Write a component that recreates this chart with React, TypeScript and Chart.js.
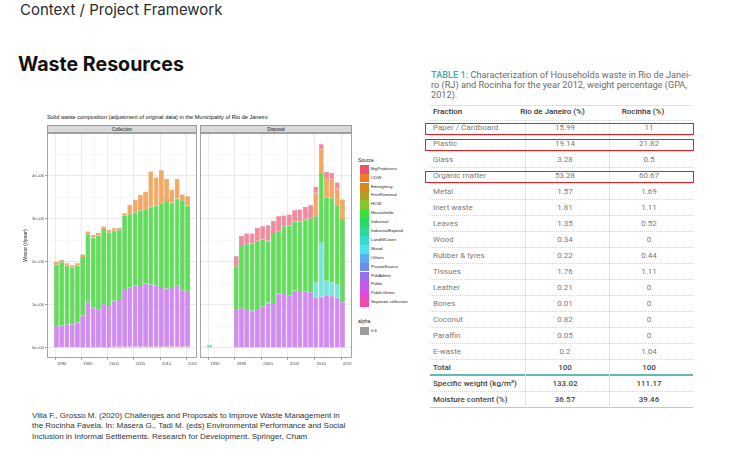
import React, { useEffect, useRef } from "react";
import { Chart, registerables } from "chart.js";
Chart.register(...registerables);

// ---------- legend / sources ----------
const SOURCES = ["BigProducers", "CDW", "Emergency", "FreeRemoval", "HCW", "Households", "Industrial", "IndustrialExpired", "LandfillCover", "Mixed", "Others", "PrivateSource", "PubAdmin", "Public", "PublicGreen", "Separate collection"];
const LEGEND_COLORS = ["#EE4F73", "#F07C28", "#D8871C", "#ADA022", "#86C82A", "#3BE03A", "#2AD862", "#2AD89A", "#36DCCB", "#4CE2F0", "#5AAEF0", "#6E8CF0", "#9470EE", "#C05BEE", "#E04ADC", "#F04AAE"];
const BAR_FILL: Record<string, string> = {
  BigProducers: "#F48A9E",
  CDW: "#F4A862",
  Households: "#5EE056",
  LandfillCover: "#74E6DE",
  Public: "#D48AF3",
  "Separate collection": "#F07EBB",
};
const BAR_LINE: Record<string, string> = {
  BigProducers: "#C8405C",
  CDW: "#C87424",
  Households: "#2E9E2A",
  LandfillCover: "#2AA8A0",
  Public: "#9448B8",
  "Separate collection": "#B03A7A",
};

// ---------- Collection panel data (t/year) ----------
const collectionYears = [1989, 1990, 1991, 1992, 1993, 1994, 1995, 1996, 1997, 1998, 1999, 2000, 2001, 2002, 2003, 2004, 2005, 2006, 2007, 2008, 2009, 2010, 2011, 2012, 2013, 2014];
const collectionSeparate = [15000, 15000, 15000, 15000, 15000, 18000, 18000, 18000, 20000, 20000, 20000, 22000, 22000, 25000, 25000, 25000, 28000, 28000, 30000, 30000, 30000, 30000, 32000, 32000, 32000, 32000];
const collectionPublic = [485000, 495000, 525000, 525000, 575000, 725000, 1035000, 915000, 875000, 995000, 955000, 1075000, 1115000, 1345000, 1385000, 1425000, 1435000, 1465000, 1445000, 1425000, 1385000, 1345000, 1385000, 1425000, 1305000, 1285000];
const collectionHouseholds = [1440000, 1480000, 1370000, 1330000, 1320000, 1370000, 1590000, 1630000, 1720000, 1750000, 1710000, 1630000, 1600000, 1710000, 1700000, 1700000, 1730000, 1730000, 1810000, 1860000, 1950000, 2040000, 1960000, 2010000, 2100000, 1990000];
const collectionCDW = [55000, 60000, 55000, 50000, 55000, 60000, 65000, 60000, 55000, 60000, 60000, 55000, 60000, 50000, 220000, 290000, 370000, 410000, 820000, 650000, 770000, 520000, 300000, 470000, 130000, 220000];

// ---------- Disposal panel data (t/year) ----------
const disposalYears = [1989, 1994, 1995, 1996, 1997, 1998, 1999, 2000, 2001, 2002, 2003, 2004, 2005, 2006, 2007, 2008, 2009, 2010, 2011, 2012, 2013, 2014];
const disposalPublic = [null, 900000, 920000, 900000, 860000, 900000, 960000, 1020000, 1040000, 1260000, 1250000, 1220000, 1330000, 1320000, 1310000, 1290000, 1170000, 1190000, 1220000, 1200000, 1170000, 1060000];
const disposalLandfillCover = [70000, null, null, null, null, null, null, 40000, null, null, null, null, null, null, null, null, 350000, 1270000, 340000, 320000, 310000, null];
const disposalHouseholds = [null, 1000000, 1450000, 1510000, 1570000, 1590000, 1560000, 1430000, 1630000, 1450000, 1580000, 1620000, 1610000, 1620000, 1670000, 1720000, 1540000, 1610000, 1940000, 1960000, 1820000, 1940000];
const disposalCDW = [null, null, null, null, null, null, null, null, null, null, null, null, null, null, null, null, 550000, 550000, 450000, 440000, 400000, 450000];
const disposalBigProducers = [null, 230000, 230000, 250000, 230000, 300000, 310000, 360000, 290000, 350000, 250000, 260000, 260000, 280000, 300000, 310000, 130000, 120000, 150000, 150000, 150000, null];

// ---------- axes ----------
const xTicks = [1987.5, 1990, 1992.5, 1995, 1997.5, 2000, 2002.5, 2005, 2007.5, 2010, 2012.5, 2015];
const yTicks = [0, 500000, 1000000, 1500000, 2000000, 2500000, 3000000, 3500000, 4000000, 4500000];
const X_MIN = 1987.2;
const X_MAX = 2015.8;
const Y_MIN = -238000;
const Y_MAX = 5000000;

// ---------- table ----------
const fractions = ["Paper / Cardboard", "Plastic", "Glass", "Organic matter", "Metal", "Inert waste", "Leaves", "Wood", "Rubber & tyres", "Tissues", "Leather", "Bones", "Coconut", "Paraffin", "E-waste", "Total", "Specific weight (kg/m³)", "Moisture content (%)"];
const rioValues = ["15.99", "19.14", "3.28", "53.28", "1.57", "1.81", "1.35", "0.34", "0.22", "1.76", "0.21", "0.01", "0.82", "0.05", "0.2", "100", "133.02", "36.57"];
const rocinhaValues = ["11", "21.82", "0.5", "60.67", "1.69", "1.11", "0.52", "0", "0.44", "1.11", "0", "0", "0", "0", "1.04", "100", "111.17", "39.46"];
const highlighted = [0, 1, 3];

const CHART_FONT = '"Liberation Sans", Arial, Helvetica, sans-serif';

function makeDataset(label: string, years: number[], values: (number | null)[]) {
  return {
    label,
    data: years.map((x, i) => ({ x, y: values[i] })),
    backgroundColor: BAR_FILL[label],
    borderColor: BAR_LINE[label],
    borderWidth: 0.5,
    barPercentage: 0.9,
    categoryPercentage: 1,
  };
}

const panelBorder = {
  id: "panelBorder",
  afterDraw(chart: any) {
    const { ctx, chartArea: a } = chart;
    ctx.save();
    ctx.strokeStyle = "#8f8f8f";
    ctx.lineWidth = 0.8;
    ctx.strokeRect(a.left + 0.4, a.top + 0.4, a.right - a.left - 0.8, a.bottom - a.top - 0.8);
    ctx.restore();
  },
};

function fmtSci(v: number) {
  if (v === 0) return "0e+00";
  return `${v / 1000000}e+06`;
}

function makeOptions(showY: boolean): any {
  return {
    animation: false,
    responsive: false,
    maintainAspectRatio: false,
    devicePixelRatio: 1,
    layout: { padding: 0 },
    plugins: { legend: { display: false }, tooltip: { enabled: false }, title: { display: false } },
    scales: {
      x: {
        type: "linear",
        min: X_MIN,
        max: X_MAX,
        stacked: true,
        offset: false,
        afterBuildTicks: (s: any) => {
          s.ticks = xTicks.map((v) => ({ value: v }));
        },
        afterFit: (s: any) => {
          s.height = 12;
          s.paddingLeft = 0;
          s.paddingRight = 0;
        },
        ticks: {
          autoSkip: false,
          maxRotation: 0,
          minRotation: 0,
          padding: 1,
          color: "#4d4d4d",
          font: { size: 4.3, family: CHART_FONT },
          callback: (v: number) => (v % 5 === 0 ? String(v) : ""),
        },
        grid: {
          color: (c: any) => (c.tick && c.tick.value % 5 === 0 ? "#E2E2E2" : "#F0F0F0"),
          lineWidth: (c: any) => (c.tick && c.tick.value % 5 === 0 ? 0.7 : 0.5),
          tickLength: 2,
          tickColor: (c: any) => (c.tick && c.tick.value % 5 === 0 ? "#444" : "rgba(0,0,0,0)"),
          tickWidth: 0.5,
        },
        border: { display: false },
      },
      y: {
        type: "linear",
        min: Y_MIN,
        max: Y_MAX,
        stacked: true,
        afterBuildTicks: (s: any) => {
          s.ticks = yTicks.map((v) => ({ value: v }));
        },
        afterFit: (s: any) => {
          s.width = showY ? 25 : 0;
          s.paddingTop = 0;
          s.paddingBottom = 0;
        },
        ticks: {
          display: showY,
          padding: 1,
          color: "#4d4d4d",
          font: { size: 4.3, family: CHART_FONT },
          callback: (v: number) => (v % 1000000 === 0 ? fmtSci(v) : ""),
        },
        title: {
          display: showY,
          text: "Waste (t/year)",
          color: "#222",
          font: { size: 5.2, family: CHART_FONT },
          padding: { top: 0, bottom: 0 },
        },
        grid: {
          color: (c: any) => (c.tick && c.tick.value % 1000000 === 0 ? "#E2E2E2" : "#F0F0F0"),
          lineWidth: (c: any) => (c.tick && c.tick.value % 1000000 === 0 ? 0.7 : 0.5),
          drawTicks: showY,
          tickLength: 2,
          tickColor: (c: any) => (c.tick && c.tick.value % 1000000 === 0 ? "#444" : "rgba(0,0,0,0)"),
          tickWidth: 0.5,
        },
        border: { display: false },
      },
    },
  };
}

function Panel(props: { kind: "collection" | "disposal"; left: number; top: number; width: number; height: number }) {
  const ref = useRef<HTMLCanvasElement>(null);
  useEffect(() => {
    const datasets =
      props.kind === "collection"
        ? [
            makeDataset("Separate collection", collectionYears, collectionSeparate),
            makeDataset("Public", collectionYears, collectionPublic),
            makeDataset("Households", collectionYears, collectionHouseholds),
            makeDataset("CDW", collectionYears, collectionCDW),
          ]
        : [
            makeDataset("Public", disposalYears, disposalPublic),
            makeDataset("LandfillCover", disposalYears, disposalLandfillCover),
            makeDataset("Households", disposalYears, disposalHouseholds),
            makeDataset("CDW", disposalYears, disposalCDW),
            makeDataset("BigProducers", disposalYears, disposalBigProducers),
          ];
    const chart = new Chart(ref.current as HTMLCanvasElement, {
      type: "bar",
      data: { datasets } as any,
      options: makeOptions(props.kind === "collection"),
      plugins: [panelBorder],
    } as any);
    return () => chart.destroy();
  }, []);
  return (
    <canvas
      ref={ref}
      width={props.width}
      height={props.height}
      style={{ position: "absolute", left: props.left, top: props.top, width: props.width, height: props.height }}
    />
  );
}

const abs = (o: React.CSSProperties): React.CSSProperties => ({ position: "absolute", ...o });

export default function App() {
  const rowTop = 120;
  const rowH = 16;
  return (
    <div style={{ position: "fixed", left: 0, top: 0, width: 730, height: 461, background: "#fff", overflow: "hidden" }}>
      <div style={abs({ left: 20, top: 2, fontFamily: "Inter, sans-serif", fontSize: 15, lineHeight: "15px", color: "#2b2b2b", whiteSpace: "nowrap" })}>
        Context / Project Framework
      </div>
      <div style={abs({ left: 18, top: 54, fontFamily: "Inter, sans-serif", fontWeight: 700, fontSize: 19.6, lineHeight: "21px", color: "#111", whiteSpace: "nowrap" })}>
        Waste Resources
      </div>

      {/* chart title and strips */}
      <div style={abs({ left: 47, top: 114, fontFamily: CHART_FONT, fontSize: 5.6, lineHeight: "7px", color: "#111", whiteSpace: "nowrap" })}>
        Solid waste composition (adjustment of original data) in the Municipality of Rio de Janeiro
      </div>
      <div style={abs({ left: 47, top: 125, width: 150, height: 8, boxSizing: "border-box", background: "#D9D9D9", border: "0.6px solid #9a9a9a", fontFamily: CHART_FONT, fontSize: 4.6, lineHeight: "7px", textAlign: "center", color: "#1a1a1a" })}>
        Collection
      </div>
      <div style={abs({ left: 200, top: 125, width: 152, height: 8, boxSizing: "border-box", background: "#D9D9D9", border: "0.6px solid #9a9a9a", fontFamily: CHART_FONT, fontSize: 4.6, lineHeight: "7px", textAlign: "center", color: "#1a1a1a" })}>
        Disposal
      </div>
      <Panel kind="collection" left={22} top={133} width={175} height={237} />
      <Panel kind="disposal" left={200} top={133} width={152} height={237} />

      {/* legend */}
      <div style={abs({ left: 358, top: 157, fontFamily: CHART_FONT, fontSize: 5, lineHeight: "6px", color: "#222" })}>Source</div>
      {SOURCES.map((s, i) => (
        <React.Fragment key={s}>
          <div style={abs({ left: 360, top: 164.7 + i * 8.9, width: 8.5, height: 8.9, background: LEGEND_COLORS[i] })} />
          <div style={abs({ left: 371, top: 164.7 + i * 8.9, fontFamily: CHART_FONT, fontSize: 4.3, lineHeight: "8.9px", color: "#222", whiteSpace: "nowrap" })}>{s}</div>
        </React.Fragment>
      ))}
      <div style={abs({ left: 358, top: 318, fontFamily: CHART_FONT, fontSize: 5, lineHeight: "6px", color: "#222" })}>alpha</div>
      <div style={abs({ left: 360, top: 326.5, width: 8.5, height: 8.9, background: "#9C9C9C" })} />
      <div style={abs({ left: 371, top: 326.5, fontFamily: CHART_FONT, fontSize: 4.3, lineHeight: "8.9px", color: "#222" })}>0.6</div>

      {/* citation */}
      <div style={abs({ left: 32, top: 410.6, fontFamily: CHART_FONT, fontSize: 8, lineHeight: "10.8px", color: "#333", whiteSpace: "nowrap" })}>
        Villa F., Grosso M. (2020) Challenges and Proposals to Improve Waste Management in
        <br />
        the Rocinha Favela. In: Masera G., Tadi M. (eds) Environmental Performance and Social
        <br />
        Inclusion in Informal Settlements. Research for Development. Springer, Cham
      </div>

      {/* table caption */}
      <div style={abs({ left: 431, top: 69.5, width: 266, fontFamily: "Roboto, sans-serif", fontSize: 9.2, lineHeight: "10.4px", color: "#6b6b6b", whiteSpace: "nowrap" })}>
        <span style={{ color: "#3FAAB3", fontWeight: 500 }}>TABLE 1:</span> Characterization of Households waste in Rio de Janei-
        <br />
        ro (RJ) and Rocinha for the year 2012, weight percentage (GPA,
        <br />
        2012).
      </div>

      {/* table header */}
      <div style={abs({ left: 430, top: 104.5, width: 263, height: 0, borderTop: "1px solid #e2e2e2" })} />
      <div style={abs({ left: 433, top: rowTop - rowH, fontFamily: "Roboto, sans-serif", fontWeight: 500, fontSize: 8, lineHeight: `${rowH}px`, color: "#333" })}>Fraction</div>
      <div style={abs({ left: 500, width: 105, top: rowTop - rowH, fontFamily: "Roboto, sans-serif", fontWeight: 500, fontSize: 8, lineHeight: `${rowH}px`, color: "#333", textAlign: "center" })}>Rio de Janeiro (%)</div>
      <div style={abs({ left: 593, width: 100, top: rowTop - rowH, fontFamily: "Roboto, sans-serif", fontWeight: 500, fontSize: 8, lineHeight: `${rowH}px`, color: "#333", textAlign: "center" })}>Rocinha (%)</div>

      {/* table rows */}
      {fractions.map((f, i) => {
        const top = rowTop + i * rowH;
        const strong = i >= 15;
        const color = strong ? "#444" : "#7a7a7a";
        const weight = strong ? 500 : 400;
        let border = "1px dotted #cfd6d6";
        if (i === 15) border = "2px solid #62B9B9";
        if (i === 17) border = "1px solid #a9d3d3";
        return (
          <React.Fragment key={f}>
            <div style={abs({ left: 430, top: top, width: 263, height: rowH, boxSizing: "border-box", borderTop: i === 0 ? "1px dotted #cfd6d6" : "none", borderBottom: border })} />
            <div style={abs({ left: 433, top, fontFamily: "Roboto, sans-serif", fontSize: 8, fontWeight: weight, lineHeight: `${rowH}px`, color, whiteSpace: "nowrap" })}>{f}</div>
            <div style={abs({ left: 525, width: 80, top, fontFamily: "Roboto, sans-serif", fontSize: 8, fontWeight: weight, lineHeight: `${rowH}px`, color, textAlign: "center" })}>{rioValues[i]}</div>
            <div style={abs({ left: 609, width: 80, top, fontFamily: "Roboto, sans-serif", fontSize: 8, fontWeight: weight, lineHeight: `${rowH}px`, color, textAlign: "center" })}>{rocinhaValues[i]}</div>
          </React.Fragment>
        );
      })}
      <div style={abs({ left: 525, top: rowTop, width: 0, height: rowH * fractions.length, borderLeft: "1px solid #dde7e7" })} />
      <div style={abs({ left: 609, top: rowTop, width: 0, height: rowH * fractions.length, borderLeft: "1px solid #dde7e7" })} />

      {/* red highlight boxes */}
      {highlighted.map((i) => (
        <div key={i} style={abs({ left: 425, top: rowTop + i * rowH + 3, width: 269, height: 12, boxSizing: "border-box", border: "1.6px solid #E0232B" })} />
      ))}
    </div>
  );
}
